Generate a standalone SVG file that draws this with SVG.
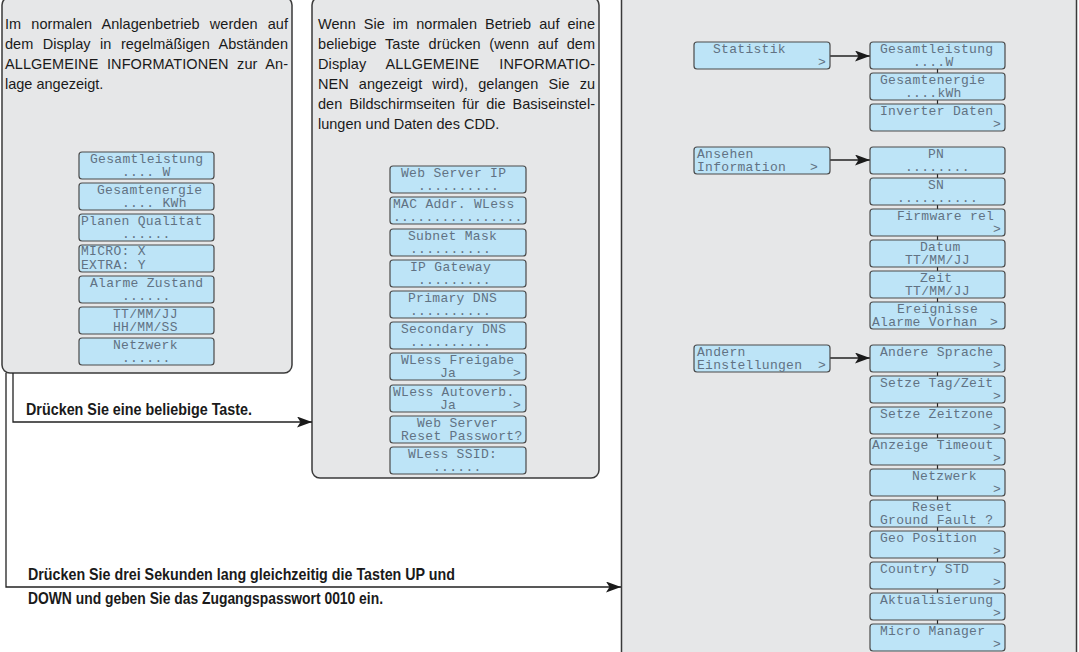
<svg xmlns="http://www.w3.org/2000/svg" width="1079" height="652" viewBox="0 0 1079 652">
<style>
.bg{fill:#ffffff}
.panel{fill:#e6e7e8;stroke:#3a3a3a;stroke-width:1.5}
.lcd{fill:#bde4f7;stroke:#4a4a4a;stroke-width:1.2}
.lt{font-family:"Liberation Mono","DejaVu Sans Mono",monospace;font-size:13px;letter-spacing:0.3px;fill:#617283}
.pt{font-family:"Liberation Sans",Arial,sans-serif;font-size:14.5px;fill:#1a1a1a}
.bt{font-family:"Liberation Sans Narrow","Liberation Sans",Arial,sans-serif;font-size:17px;font-weight:bold;fill:#1a1a1a}
.con{fill:none;stroke:#222;stroke-width:1.3}
.vcon{fill:none;stroke:#222;stroke-width:1.2}
</style>
<defs>
<marker id="ah" markerUnits="userSpaceOnUse" markerWidth="16" markerHeight="12" refX="15" refY="5.5" orient="auto">
<path d="M0,0 L15,5.5 L0,11 L3.5,5.5 Z" fill="#1a1a1a"/>
</marker>
</defs>
<rect class="bg" x="0" y="0" width="1079" height="652"/>

<g id="panel-left">
<rect class="panel" x="2" y="-3" width="290" height="376" rx="8"/>
<text class="pt" x="5" y="29" textLength="283" lengthAdjust="spacing" word-spacing="6">Im normalen Anlagenbetrieb werden auf</text>
<text class="pt" x="5" y="49" textLength="283" lengthAdjust="spacing" word-spacing="5.5">dem Display in regelmäßigen Abständen</text>
<text class="pt" x="5" y="69" textLength="283" lengthAdjust="spacing" word-spacing="4.5">ALLGEMEINE INFORMATIONEN zur An-</text>
<text class="pt" x="5" y="89">lage angezeigt.</text>
</g>

<g id="panel-middle">
<rect class="panel" x="312" y="-3" width="287" height="481" rx="8"/>
<text class="pt" x="318" y="29" textLength="277" lengthAdjust="spacing" word-spacing="4">Wenn Sie im normalen Betrieb auf eine</text>
<text class="pt" x="318" y="49" textLength="277" lengthAdjust="spacing" word-spacing="4.5">beliebige Taste drücken (wenn auf dem</text>
<text class="pt" x="318" y="69" textLength="277" lengthAdjust="spacing" word-spacing="16">Display ALLGEMEINE INFORMATIO-</text>
<text class="pt" x="318" y="89" textLength="277" lengthAdjust="spacing" word-spacing="6">NEN angezeigt wird), gelangen Sie zu</text>
<text class="pt" x="318" y="109" textLength="277" lengthAdjust="spacing" word-spacing="3">den Bildschirmseiten für die Basiseinstel-</text>
<text class="pt" x="318" y="129">lungen und Daten des CDD.</text>
</g>

<g id="panel-right">
<rect class="panel" x="621.5" y="-5" width="455" height="662"/>
</g>

<g id="connectors">
<path class="con" d="M13,373 V422 H312" marker-end="url(#ah)"/>
<path class="con" d="M6,373 V587 H621" marker-end="url(#ah)"/>
<path class="con" d="M830,56 H870" marker-end="url(#ah)"/>
<path class="con" d="M830,160 H870" marker-end="url(#ah)"/>
<path class="con" d="M830,358 H870" marker-end="url(#ah)"/>
<path class="vcon" d="M937.5,42 V131"/>
<path class="vcon" d="M937.5,147 V329"/>
<path class="vcon" d="M937.5,345 V651"/>
</g>

<g id="labels">
<text class="bt" x="26" y="415" textLength="226" lengthAdjust="spacingAndGlyphs">Drücken Sie eine beliebige Taste.</text>
<text class="bt" x="28" y="580" textLength="427" lengthAdjust="spacingAndGlyphs">Drücken Sie drei Sekunden lang gleichzeitig die Tasten UP und</text>
<text class="bt" x="28" y="604" textLength="355" lengthAdjust="spacingAndGlyphs">DOWN und geben Sie das Zugangspasswort 0010 ein.</text>
</g>

<!-- left panel LCD screens -->
<g id="l-gesamtleistung"><rect class="lcd" x="79" y="152" width="135" height="27" rx="3"/><text class="lt" x="90" y="162.5">Gesamtleistung</text><text class="lt" x="122" y="176">.... W</text></g>
<g id="l-gesamtenergie"><rect class="lcd" x="79" y="183" width="135" height="27" rx="3"/><text class="lt" x="97" y="193.5">Gesamtenergie</text><text class="lt" x="122" y="207">.... KWh</text></g>
<g id="l-planen"><rect class="lcd" x="79" y="214" width="135" height="27" rx="3"/><text class="lt" x="81" y="224.5">Planen Qualitat</text><text class="lt" x="122" y="238">......</text></g>
<g id="l-micro"><rect class="lcd" x="79" y="245" width="135" height="27" rx="3"/><text class="lt" x="81" y="255">MICRO: X</text><text class="lt" x="81" y="268.5">EXTRA: Y</text></g>
<g id="l-alarme"><rect class="lcd" x="79" y="276" width="135" height="27" rx="3"/><text class="lt" x="90" y="286.5">Alarme Zustand</text><text class="lt" x="122" y="300">......</text></g>
<g id="l-datum"><rect class="lcd" x="79" y="307" width="135" height="27" rx="3"/><text class="lt" x="113" y="317.5">TT/MM/JJ</text><text class="lt" x="113" y="331">HH/MM/SS</text></g>
<g id="l-netzwerk"><rect class="lcd" x="79" y="338" width="135" height="27" rx="3"/><text class="lt" x="113" y="348.5">Netzwerk</text><text class="lt" x="122" y="362">......</text></g>

<!-- middle panel LCD screens -->
<g id="m-webip"><rect class="lcd" x="390" y="166" width="136" height="27" rx="3"/><text class="lt" x="401" y="176.5">Web Server IP</text><text class="lt" x="418" y="190">..........</text></g>
<g id="m-mac"><rect class="lcd" x="390" y="197" width="136" height="27" rx="3"/><text class="lt" x="393" y="207.5">MAC Addr. WLess</text><text class="lt" x="393" y="221">................</text></g>
<g id="m-subnet"><rect class="lcd" x="390" y="229" width="136" height="27" rx="3"/><text class="lt" x="408" y="239.5">Subnet Mask</text><text class="lt" x="410" y="253">..........</text></g>
<g id="m-gateway"><rect class="lcd" x="390" y="260" width="136" height="27" rx="3"/><text class="lt" x="410" y="270.5">IP Gateway</text><text class="lt" x="418" y="284">.........</text></g>
<g id="m-dns1"><rect class="lcd" x="390" y="291" width="136" height="27" rx="3"/><text class="lt" x="408" y="301.5">Primary DNS</text><text class="lt" x="410" y="315">..........</text></g>
<g id="m-dns2"><rect class="lcd" x="390" y="322" width="136" height="27" rx="3"/><text class="lt" x="401" y="332.5">Secondary DNS</text><text class="lt" x="410" y="346">..........</text></g>
<g id="m-freigabe"><rect class="lcd" x="390" y="353" width="136" height="27" rx="3"/><text class="lt" x="401" y="363.5">WLess Freigabe</text><text class="lt" x="440" y="377">Ja</text><text class="lt" x="513" y="377">&gt;</text></g>
<g id="m-autoverb"><rect class="lcd" x="390" y="385" width="136" height="27" rx="3"/><text class="lt" x="393" y="395.5">WLess Autoverb.</text><text class="lt" x="440" y="409">Ja</text><text class="lt" x="513" y="409">&gt;</text></g>
<g id="m-reset"><rect class="lcd" x="390" y="416" width="136" height="27" rx="3"/><text class="lt" x="417" y="426.5">Web Server</text><text class="lt" x="401" y="440">Reset Passwort?</text></g>
<g id="m-ssid"><rect class="lcd" x="390" y="447" width="136" height="27" rx="3"/><text class="lt" x="408" y="457.5">WLess SSID:</text><text class="lt" x="433" y="471">......</text></g>

<!-- right panel menu -->
<g id="r-statistik"><rect class="lcd" x="694" y="42" width="136" height="27" rx="3"/><text class="lt" x="713" y="53">Statistik</text><text class="lt" x="818" y="66">&gt;</text></g>
<g id="r-ansehen"><rect class="lcd" x="694" y="147" width="136" height="27" rx="3"/><text class="lt" x="697" y="157.5">Ansehen</text><text class="lt" x="697" y="171">Information</text><text class="lt" x="810" y="171">&gt;</text></g>
<g id="r-andern"><rect class="lcd" x="694" y="345" width="136" height="27" rx="3"/><text class="lt" x="697" y="355.5">Andern</text><text class="lt" x="697" y="369">Einstellungen</text><text class="lt" x="818" y="369">&gt;</text></g>

<g id="s-gesamtleistung"><rect class="lcd" x="870" y="42" width="135" height="27" rx="3"/><text class="lt" x="880" y="53">Gesamtleistung</text><text class="lt" x="913" y="66">....W</text></g>
<g id="s-gesamtenergie"><rect class="lcd" x="870" y="73" width="135" height="27" rx="3"/><text class="lt" x="880" y="84">Gesamtenergie</text><text class="lt" x="905" y="97">....kWh</text></g>
<g id="s-inverter"><rect class="lcd" x="870" y="104" width="135" height="27" rx="3"/><text class="lt" x="880" y="115">Inverter Daten</text><text class="lt" x="993" y="128">&gt;</text></g>

<g id="i-pn"><rect class="lcd" x="870" y="147" width="135" height="27" rx="3"/><text class="lt" x="928" y="157.5">PN</text><text class="lt" x="905" y="171">........</text></g>
<g id="i-sn"><rect class="lcd" x="870" y="178" width="135" height="27" rx="3"/><text class="lt" x="928" y="188.5">SN</text><text class="lt" x="897" y="202">..........</text></g>
<g id="i-firmware"><rect class="lcd" x="870" y="209" width="135" height="27" rx="3"/><text class="lt" x="897" y="219.5">Firmware rel</text><text class="lt" x="993" y="233">&gt;</text></g>
<g id="i-datum"><rect class="lcd" x="870" y="240" width="135" height="27" rx="3"/><text class="lt" x="920" y="250.5">Datum</text><text class="lt" x="905" y="264">TT/MM/JJ</text></g>
<g id="i-zeit"><rect class="lcd" x="870" y="271" width="135" height="27" rx="3"/><text class="lt" x="920" y="281.5">Zeit</text><text class="lt" x="905" y="295">TT/MM/JJ</text></g>
<g id="i-ereignisse"><rect class="lcd" x="870" y="302" width="135" height="27" rx="3"/><text class="lt" x="897" y="312.5">Ereignisse</text><text class="lt" x="872" y="326">Alarme Vorhan</text><text class="lt" x="990" y="326">&gt;</text></g>

<g id="e-sprache"><rect class="lcd" x="870" y="345" width="135" height="27" rx="3"/><text class="lt" x="880" y="355.5">Andere Sprache</text><text class="lt" x="993" y="369">&gt;</text></g>
<g id="e-tagzeit"><rect class="lcd" x="870" y="376" width="135" height="27" rx="3"/><text class="lt" x="880" y="386.5">Setze Tag/Zeit</text><text class="lt" x="993" y="400">&gt;</text></g>
<g id="e-zeitzone"><rect class="lcd" x="870" y="407" width="135" height="27" rx="3"/><text class="lt" x="880" y="417.5">Setze Zeitzone</text><text class="lt" x="993" y="431">&gt;</text></g>
<g id="e-timeout"><rect class="lcd" x="870" y="438" width="135" height="27" rx="3"/><text class="lt" x="872" y="448.5">Anzeige Timeout</text><text class="lt" x="993" y="462">&gt;</text></g>
<g id="e-netzwerk"><rect class="lcd" x="870" y="469" width="135" height="27" rx="3"/><text class="lt" x="912" y="479.5">Netzwerk</text><text class="lt" x="993" y="493">&gt;</text></g>
<g id="e-ground"><rect class="lcd" x="870" y="500" width="135" height="27" rx="3"/><text class="lt" x="912" y="510.5">Reset</text><text class="lt" x="880" y="524">Ground Fault ?</text></g>
<g id="e-geo"><rect class="lcd" x="870" y="531" width="135" height="27" rx="3"/><text class="lt" x="880" y="541.5">Geo Position</text><text class="lt" x="993" y="555">&gt;</text></g>
<g id="e-country"><rect class="lcd" x="870" y="562" width="135" height="27" rx="3"/><text class="lt" x="880" y="572.5">Country STD</text><text class="lt" x="993" y="586">&gt;</text></g>
<g id="e-update"><rect class="lcd" x="870" y="593" width="135" height="27" rx="3"/><text class="lt" x="880" y="603.5">Aktualisierung</text><text class="lt" x="993" y="617">&gt;</text></g>
<g id="e-micro"><rect class="lcd" x="870" y="624" width="135" height="27" rx="3"/><text class="lt" x="880" y="634.5">Micro Manager</text><text class="lt" x="993" y="648">&gt;</text></g>
</svg>
